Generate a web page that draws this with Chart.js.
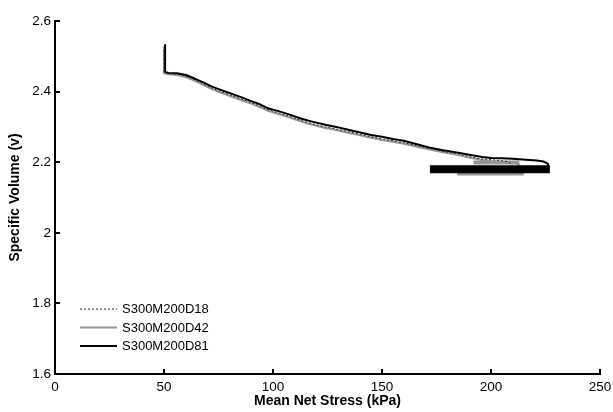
<!DOCTYPE html>
<html>
<head>
<meta charset="utf-8">
<script src="https://cdn.jsdelivr.net/npm/chart.js@4.4.0/dist/chart.umd.min.js"></script>
<style>
  html, body { margin: 0; padding: 0; background: #fff; }
  canvas { display: block; }
</style>
</head>
<body>
<canvas id="chart" width="613" height="412"></canvas>
<script>
/* ── Axis ticks ─────────────────────────────────────────── */
const X_TICKS = [0, 50, 100, 150, 200, 250];
const Y_TICKS = [1.6, 1.8, 2, 2.2, 2.4, 2.6];

/* ── Test names (legend order) ──────────────────────────── */
const TESTS = ['S300M200D18', 'S300M200D42', 'S300M200D81'];

/* ── Compression paths: [mean net stress kPa, specific volume] ── */
const d18 = [
  [50, 2.528], [50, 2.455], [52, 2.451], [56, 2.450], [60, 2.444], [64, 2.434],
  [68, 2.422], [72, 2.410], [76, 2.400], [80, 2.391], [85, 2.380], [90, 2.369],
  [94, 2.359], [98, 2.348], [103, 2.339], [108, 2.329], [113, 2.318], [118, 2.309],
  [124, 2.300], [129, 2.294], [135, 2.286], [140, 2.279], [145, 2.272], [150, 2.266],
  [155, 2.261], [160, 2.255], [166, 2.247], [172, 2.239], [178, 2.231], [185, 2.223],
  [190, 2.216], [195, 2.210], [200, 2.207], [204, 2.205], [208, 2.201], [210, 2.190],
  [211, 2.181]
];
const d42 = [
  [50, 2.520], [50, 2.452], [52, 2.449], [56, 2.447], [60, 2.441], [64, 2.431],
  [68, 2.419], [72, 2.407], [76, 2.397], [80, 2.388], [85, 2.377], [90, 2.366],
  [94, 2.356], [98, 2.345], [103, 2.336], [108, 2.326], [113, 2.315], [118, 2.306],
  [124, 2.297], [129, 2.291], [135, 2.283], [140, 2.276], [145, 2.269], [150, 2.263],
  [155, 2.258], [160, 2.252], [166, 2.244], [172, 2.236], [178, 2.228], [185, 2.220],
  [190, 2.213], [195, 2.207], [200, 2.203], [205, 2.200], [211, 2.198], [213, 2.192],
  [214, 2.178]
];
const d81 = [
  [50.5, 2.532], [50.5, 2.456], [52, 2.453], [56, 2.452], [60, 2.447], [64, 2.437],
  [68, 2.426], [72, 2.414], [76, 2.405], [80, 2.396], [85, 2.385], [90, 2.373],
  [94, 2.364], [98, 2.352], [103, 2.344], [108, 2.334], [113, 2.323], [118, 2.315],
  [124, 2.306], [129, 2.300], [135, 2.291], [140, 2.284], [145, 2.277], [150, 2.272],
  [155, 2.266], [160, 2.261], [166, 2.251], [172, 2.241], [178, 2.234], [185, 2.227],
  [190, 2.221], [196, 2.215], [200, 2.212], [205, 2.211], [210, 2.210], [216, 2.207],
  [221, 2.205], [224, 2.202], [226, 2.196], [226.5, 2.186]
];

/* ── Cyclic holds at the end of each test (dense, plotted as bands) ── */
const d42HoldHigh = [[192, 2.199], [213, 2.199]];
const d42HoldLow  = [[184.5, 2.168], [215, 2.168]];
const d81Hold     = [[172, 2.180], [227, 2.180]];

const pts = arr => arr.map(([x, y]) => ({ x, y }));

const BLACK = '#000000';
const GREY  = '#959595';
const FONT  = '"Liberation Sans", Arial, Helvetica, sans-serif';

/* ── Inward tick marks (MATLAB style) ───────────────────── */
const innerTicks = {
  id: 'innerTicks',
  afterDraw(chart) {
    const { ctx } = chart;
    const x = chart.scales.x, y = chart.scales.y;
    ctx.save();
    ctx.strokeStyle = BLACK;
    ctx.lineWidth = 2;
    ctx.beginPath();
    X_TICKS.forEach(v => {
      const px = Math.round(x.getPixelForValue(v));
      ctx.moveTo(px, x.top);
      ctx.lineTo(px, x.top - 5);
    });
    Y_TICKS.forEach(v => {
      const py = Math.round(y.getPixelForValue(v));
      ctx.moveTo(y.right, py);
      ctx.lineTo(y.right + 5, py);
    });
    ctx.stroke();
    ctx.restore();
  }
};

/* ── Legend inside the plot, lower left ─────────────────── */
const insetLegend = {
  id: 'insetLegend',
  afterDraw(chart) {
    const { ctx } = chart;
    const rows = [309, 327.5, 346];
    ctx.save();
    ctx.font = '13px ' + FONT;
    ctx.textBaseline = 'middle';
    ctx.fillStyle = BLACK;
    TESTS.forEach((name, i) => {
      const ds = chart.data.datasets[i];
      ctx.strokeStyle = ds.borderColor;
      ctx.lineWidth = ds.borderWidth;
      ctx.setLineDash(ds.borderDash || []);
      ctx.beginPath();
      ctx.moveTo(80, rows[i]);
      ctx.lineTo(117, rows[i]);
      ctx.stroke();
      ctx.setLineDash([]);
      ctx.fillText(name, 122, rows[i] + 0.5);
    });
    ctx.restore();
  }
};

const line = (label, data, color, width, order, dash) => ({
  label, data: pts(data), showLine: true,
  borderColor: color, backgroundColor: color, borderWidth: width,
  borderDash: dash || [], borderCapStyle: 'butt', borderJoinStyle: 'round',
  pointRadius: 0, fill: false, order
});

new Chart(document.getElementById('chart'), {
  type: 'scatter',
  data: {
    datasets: [
      line(TESTS[0], d18, '#222222', 1, 0, [2, 2]),
      line(TESTS[1], d42, GREY, 2, 2),
      line(TESTS[2], d81, BLACK, 2, 1),
      line('', d42HoldHigh, GREY, 4, 2),
      line('', d42HoldLow, GREY, 4, 3),
      line('', d81Hold, BLACK, 8, 1)
    ]
  },
  options: {
    responsive: false,
    animation: false,
    layout: { padding: { top: 21, right: 13, left: 0, bottom: 0 } },
    plugins: { legend: { display: false }, tooltip: { enabled: false } },
    scales: {
      x: {
        type: 'linear', min: 0, max: 250,
        afterBuildTicks: s => { s.ticks = X_TICKS.map(value => ({ value })); },
        afterFit: s => { s.height = 38; s.paddingRight = 13; s.paddingLeft = 0; },
        grid: { display: false, drawTicks: false, tickLength: 0 },
        border: { color: BLACK, width: 2 },
        ticks: { color: BLACK, font: { family: FONT, size: 13.5 }, padding: 5, maxRotation: 0 },
        title: {
          display: true, text: 'Mean Net Stress (kPa)', color: BLACK,
          font: { family: FONT, size: 14, weight: 'bold' }, padding: { top: 0, bottom: 2 }
        }
      },
      y: {
        type: 'linear', min: 1.6, max: 2.6,
        afterBuildTicks: s => { s.ticks = Y_TICKS.map(value => ({ value })); },
        afterFit: s => { s.width = 55; },
        grid: { display: false, drawTicks: false, tickLength: 0 },
        border: { color: BLACK, width: 2 },
        ticks: {
          color: BLACK, font: { family: FONT, size: 13.5 }, padding: 4,
          callback: v => String(+v.toFixed(1))
        },
        title: {
          display: true, text: 'Specific Volume (v)', color: BLACK,
          font: { family: FONT, size: 14, weight: 'bold' }, padding: { top: 7, bottom: 0 }
        }
      }
    }
  },
  plugins: [innerTicks, insetLegend]
});
</script>
</body>
</html>
